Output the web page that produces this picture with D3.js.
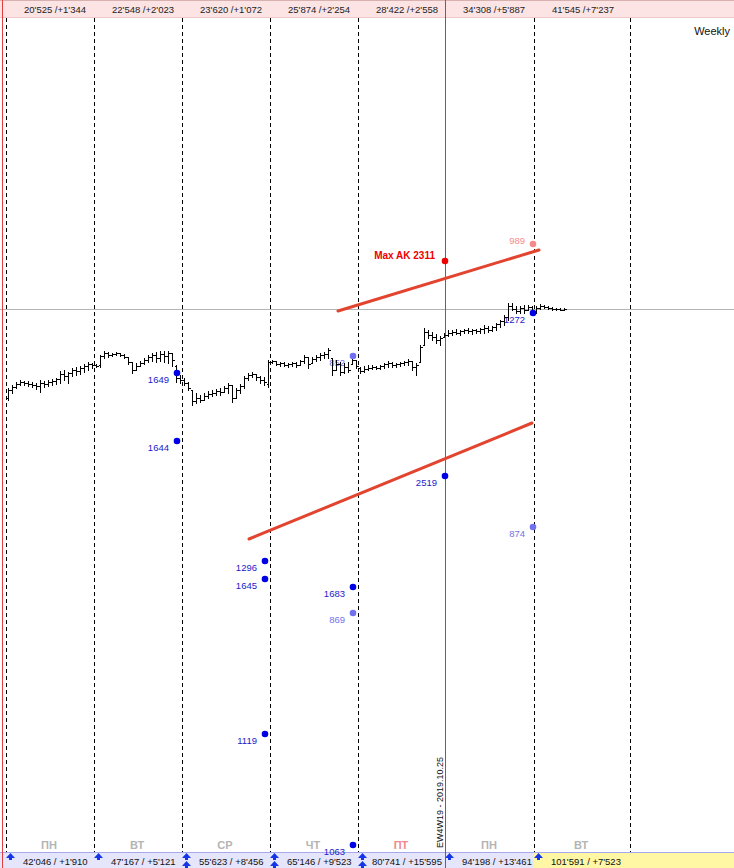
<!DOCTYPE html>
<html><head><meta charset="utf-8">
<script src="https://cdn.jsdelivr.net/npm/d3@7"></script>
<style>
body{margin:0;background:#fff}
svg{display:block}
text{font-family:"Liberation Sans",Arial,sans-serif}
</style>
</head><body>
<svg id="c" width="734" height="868"></svg>
<script>
// ---------------- DATA ----------------
const dayNames = ["ПН","ВТ","СР","ЧТ","ПТ","ПН","ВТ"];
const topLabels = ["20'525 /+1'344","22'548 /+2'023","23'620 /+1'072","25'874 /+2'254","28'422 /+2'558","34'308 /+5'887","41'545 /+7'237"];
const bottomLabels = ["42'046 / +1'910","47'167 / +5'121","55'623 / +8'456","65'146 / +9'523","80'741 / +15'595","94'198 / +13'461","101'591 / +7'523"];
const arrowCounts = [1,1,2,2,2,1,1];
const barsPerDay = 22;
const daySeparators = [0,22,44,66,88,132,156];   // in bar-index units
const columnStarts = [0,22,44,66,88,109.75,132];  // columns of the top/bottom bands
const eventIndex = 109.75;
const eventLabel = "EW4W19 - 2019.10.25";
const levelPrice = 11241;
const periodLabel = "Weekly";

// OHLC bars per day: [open, high, low, close]
const day1 = [[11152,11162,11150,11160],[11160,11165,11157,11163],[11163,11168,11162,11166],[11166,11170,11165,11168],[11168,11169,11165,11167],[11167,11169,11164,11166],[11166,11168,11163,11165],[11165,11167,11161,11164],[11164,11170,11158,11167],[11167,11169,11163,11166],[11166,11170,11164,11168],[11168,11171,11165,11169],[11169,11172,11166,11171],[11171,11179,11167,11176],[11176,11180,11170,11174],[11174,11178,11167,11177],[11177,11182,11174,11180],[11180,11183,11175,11179],[11179,11184,11176,11182],[11182,11186,11178,11184],[11184,11188,11180,11186],[11186,11187,11182,11185]];
const day2 = [[11185,11186,11183,11184],[11185,11195,11183,11194],[11194,11199,11192,11197],[11197,11198,11193,11195],[11195,11197,11194,11196],[11196,11198,11195,11197],[11197,11197,11194,11195],[11195,11196,11192,11193],[11193,11193,11186,11188],[11188,11188,11177,11180],[11180,11187,11180,11184],[11184,11189,11184,11187],[11187,11192,11186,11190],[11190,11195,11188,11193],[11193,11197,11189,11195],[11195,11198,11188,11192],[11192,11199,11189,11196],[11196,11199,11188,11194],[11194,11199,11187,11197],[11197,11197,11184,11190],[11184,11185,11168,11172],[11172,11175,11167,11170]];
const day3 = [[11170,11172,11165,11167],[11167,11168,11160,11162],[11160,11160,11145,11149],[11149,11157,11147,11152],[11152,11155,11148,11150],[11150,11157,11150,11154],[11154,11159,11152,11156],[11156,11160,11154,11157],[11157,11161,11155,11159],[11159,11162,11155,11158],[11158,11164,11158,11162],[11162,11167,11157,11165],[11165,11165,11148,11152],[11152,11162,11152,11160],[11160,11166,11157,11164],[11164,11174,11162,11172],[11172,11177,11170,11175],[11175,11178,11173,11176],[11176,11176,11170,11173],[11173,11174,11167,11170],[11170,11173,11165,11168],[11166,11190,11163,11188]];
const day4 = [[11188,11190,11187,11189],[11189,11188,11185,11186],[11186,11188,11184,11187],[11187,11188,11184,11185],[11185,11187,11183,11186],[11186,11188,11184,11187],[11187,11188,11183,11185],[11185,11190,11185,11189],[11189,11195,11187,11193],[11193,11192,11182,11186],[11187,11193,11187,11191],[11191,11195,11189,11193],[11193,11197,11190,11195],[11195,11198,11192,11196],[11196,11202,11192,11200],[11192,11192,11175,11180],[11180,11190,11180,11186],[11186,11188,11175,11178],[11178,11187,11177,11183],[11183,11188,11178,11180],[11186,11192,11186,11190],[11190,11189,11182,11184]];
const day5 = [[11182,11183,11177,11179],[11179,11184,11178,11181],[11181,11185,11180,11182],[11182,11185,11181,11183],[11183,11184,11181,11182],[11182,11185,11181,11184],[11184,11187,11182,11186],[11186,11189,11183,11187],[11187,11188,11183,11185],[11185,11187,11183,11186],[11186,11188,11184,11187],[11187,11189,11185,11188],[11188,11191,11185,11189],[11189,11188,11180,11183],[11183,11187,11175,11185],[11188,11205,11188,11203],[11205,11222,11205,11218],[11218,11220,11212,11215],[11215,11218,11210,11213],[11213,11216,11207,11210],[11210,11214,11205,11212],[11213,11217,11213,11215]];
const day6 = [[11215,11220,11214,11217],[11217,11220,11215,11218],[11218,11221,11216,11217],[11217,11220,11215,11219],[11219,11221,11217,11220],[11220,11222,11217,11219],[11219,11221,11216,11220],[11220,11221,11217,11219],[11219,11222,11217,11221],[11221,11225,11217,11222],[11222,11224,11218,11220],[11220,11224,11219,11223],[11223,11227,11220,11226],[11226,11230,11223,11229],[11229,11235,11225,11233],[11233,11247,11230,11244],[11244,11247,11240,11241],[11241,11244,11237,11239],[11239,11244,11237,11242],[11242,11245,11237,11240],[11240,11245,11240,11243],[11243,11244,11238,11239]];
const day7 = [[11239,11244,11237,11242],[11242,11246,11241,11244],[11244,11245,11242,11243],[11243,11244,11241,11242],[11242,11243,11240,11241],[11241,11242,11240,11241],[11241,11242,11240,11240],[11240,11242,11240,11241]];

// levels: [bar index, price, label, kind]
const markers = [
  [42.75, 11177, "1649", "dark"],
  [42.75, 11109, "1644", "dark"],
  [64.75, 10989, "1296", "dark"],
  [64.75, 10971, "1645", "dark"],
  [64.75, 10816, "1119", "dark"],
  [86.75, 11194, "852",  "light"],
  [86.75, 10963, "1683", "dark"],
  [86.75, 10937, "869",  "light"],
  [86.75, 10705, "1063", "dark"],
  [109.75, 11074, "2519", "dark"],
  [109.75, 11289, "Max AK 2311", "max"],
  [131.75, 11306, "989", "pink"],
  [131.75, 11237, "1272", "dark"],
  [131.75, 11023, "874", "light"]
];
// trend lines: [index1, price1, index2, price2]
const trendLines = [
  [83, 11239, 133.25, 11300],
  [60.75, 11011, 131.5, 11127]
];

// ---------------- DRAW ----------------
const W = 734, H = 868;
const svg = d3.select("#c");
const x = d3.scaleLinear().domain([0, 156]).range([6, 630]);
const y = d3.scaleLinear().domain([10700, 11532]).range([850, 18]);
const crisp = v => Math.round(v) + 0.5;

// top band
svg.append("rect").attr("x",0).attr("y",0).attr("width",W).attr("height",18).attr("fill","#fde4e4");
svg.append("line").attr("x1",0).attr("x2",W).attr("y1",0.5).attr("y2",0.5).attr("stroke","#d8b0b0");
svg.append("line").attr("x1",0).attr("x2",W).attr("y1",17.5).attr("y2",17.5).attr("stroke","#f0c8c8");
svg.selectAll("text.top").data(topLabels).join("text")
  .attr("x",(d,i)=>x(columnStarts[i])+18).attr("y",13)
  .attr("font-size",9.5).attr("fill","#222").text(d=>d);

// level line
svg.append("line").attr("x1",0).attr("x2",W).attr("y1",crisp(y(levelPrice))).attr("y2",crisp(y(levelPrice)))
  .attr("stroke","#b4b4b4");

// day separators
svg.selectAll("line.sep").data(daySeparators).join("line")
  .attr("x1",d=>crisp(x(d))).attr("x2",d=>crisp(x(d)))
  .attr("y1",18).attr("y2",852).attr("stroke","#000").attr("stroke-dasharray","4,3");

// period label
svg.append("text").attr("x",730).attr("y",35).attr("text-anchor","end").attr("font-size",11).attr("fill","#111").text(periodLabel);

// bottom band
svg.append("rect").attr("x",0).attr("y",852).attr("width",W).attr("height",16).attr("fill","#e5e5fb");
svg.append("rect").attr("x",crisp(x(132))-0.5).attr("y",852).attr("width",W-x(132)).attr("height",16).attr("fill","#fff7a3");
svg.append("line").attr("x1",0).attr("x2",W).attr("y1",852.5).attr("y2",852.5).attr("stroke","#a8a8ee");

// day names
svg.selectAll("text.day").data(dayNames).join("text")
  .attr("x",(d,i)=>x(i*barsPerDay + barsPerDay/2)+ (i===6?3:-1)).attr("y",849)
  .attr("text-anchor","middle").attr("font-size",11).attr("font-weight","bold")
  .attr("fill",(d,i)=>i===4?"#f08a8a":"#b4b4b4").text(d=>d);

// bottom labels + arrows
svg.selectAll("text.bot").data(bottomLabels).join("text")
  .attr("x",(d,i)=>x(columnStarts[i])+ (i===4?14:17)).attr("y",865)
  .attr("font-size",9.5).attr("fill","#111").text(d=>d);
const arrowPath = (cx, ty) => `M${cx-4.5},${ty+5}L${cx},${ty}L${cx+4.5},${ty+5}L${cx+1.5},${ty+5}L${cx+1.5},${ty+7}L${cx-1.5},${ty+7}L${cx-1.5},${ty+5}Z`;
arrowCounts.forEach((n,i)=>{
  const cx = Math.round(x(columnStarts[i]))+4.5;
  for(let k=0;k<n;k++){
    svg.append("path").attr("d",arrowPath(cx, 853+k*8)).attr("fill","#1436e6");
  }
});

// left red edge + event line
svg.append("line").attr("x1",2.5).attr("x2",2.5).attr("y1",0).attr("y2",H).attr("stroke","#e04040");
svg.append("line").attr("x1",crisp(x(eventIndex))).attr("x2",crisp(x(eventIndex))).attr("y1",0).attr("y2",H).attr("stroke","#e03030");
svg.append("text").attr("transform",`translate(${crisp(x(eventIndex))-3},848) rotate(-90)`)
  .attr("font-size",9).attr("fill","#111").text(eventLabel);

// trend lines
svg.selectAll("line.trend").data(trendLines).join("line")
  .attr("x1",d=>x(d[0])).attr("y1",d=>y(d[1])).attr("x2",d=>x(d[2])).attr("y2",d=>y(d[3]))
  .attr("stroke","#e2442f").attr("stroke-width",3).attr("stroke-linecap","round");

// marker labels
const colors = {dark:"#0000e6", light:"#7272f0", pink:"#f48a8a", max:"#ee0000"};
const labelColors = {dark:"#1b1bc8", light:"#7272e8", pink:"#f48a8a", max:"#ee0000"};
svg.selectAll("text.mk").data(markers).join("text")
  .attr("x",d=>x(d[0]) - (d[3]==="max"?10:8))
  .attr("y",d=>y(d[1]) + (d[3]==="pink"?0:(d[3]==="max"?-2:10)))
  .attr("text-anchor","end").attr("font-size",d=>d[3]==="max"?10:9.5)
  .attr("font-weight",d=>d[3]==="max"?"bold":"normal")
  .attr("fill",d=>labelColors[d[3]]).text(d=>d[2]);

// OHLC bars
const allBars = [].concat(day1,day2,day3,day4,day5,day6,day7);
const g = svg.append("g").attr("stroke","#000").attr("stroke-width",1).attr("shape-rendering","crispEdges");
allBars.forEach((b,i)=>{
  const cx = Math.round(x(i+0.5))+0.5;
  const [o,h,l,c] = b;
  g.append("line").attr("x1",cx).attr("x2",cx).attr("y1",Math.round(y(h))).attr("y2",Math.round(y(l))+1);
  g.append("line").attr("x1",cx-2).attr("x2",cx).attr("y1",crisp(y(o))).attr("y2",crisp(y(o)));
  g.append("line").attr("x1",cx).attr("x2",cx+2).attr("y1",crisp(y(c))).attr("y2",crisp(y(c)));
});

// marker dots
svg.selectAll("circle.mk").data(markers).join("circle")
  .attr("cx",d=>x(d[0])).attr("cy",d=>y(d[1])).attr("r",3.3)
  .attr("fill",d=>colors[d[3]]);
</script>
</body></html>
